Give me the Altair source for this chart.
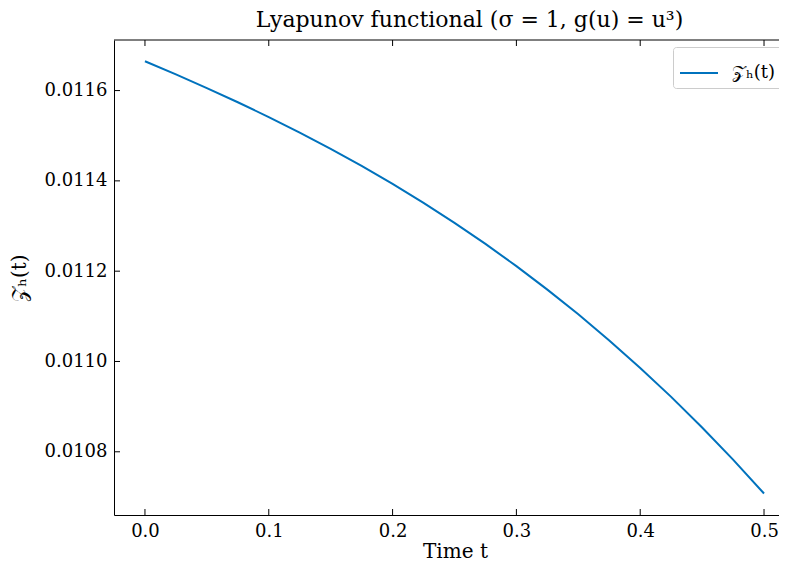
import altair as alt
import pandas as pd

# ---- data ----
t_vals = [0.0, 0.025, 0.05, 0.075, 0.1, 0.125, 0.15, 0.175, 0.2, 0.225, 0.25,
          0.275, 0.3, 0.325, 0.35, 0.375, 0.4, 0.425, 0.45, 0.475, 0.5]
z_vals = [0.011665, 0.011636, 0.0116056, 0.0115741, 0.0115413, 0.011507,
          0.0114709, 0.0114331, 0.0113932, 0.0113512, 0.011307, 0.0112604,
          0.0112111, 0.0111592, 0.0111045, 0.0110467, 0.0109857, 0.0109216,
          0.0108539, 0.0107827, 0.0107077]
x_ticks = [0.0, 0.1, 0.2, 0.3, 0.4, 0.5]
y_ticks = [0.0108, 0.0110, 0.0112, 0.0114, 0.0116]
series_name = "𝒵ₕ(t)"
title_text = "Lyapunov functional  (σ = 1, g(u) = u³)"

W, H = 665, 475
FONT = "DejaVu Serif"
LINE_COLOR = "#0072bd"
AX = "#000000"

df = pd.DataFrame({"t": t_vals, "Z": z_vals, "series": [series_name] * len(t_vals)})
xt = pd.DataFrame({"t": x_ticks})
yt = pd.DataFrame({"Z": y_ticks})

xscale = alt.Scale(domain=[-0.025, 0.5121], nice=False, zero=False)
yscale = alt.Scale(domain=[0.01066, 0.011712], nice=False, zero=False)

xaxis = alt.Axis(values=x_ticks, format=".1f", title="Time t", labelPadding=7,
                 titlePadding=1, titleX=341)
yaxis = alt.Axis(values=y_ticks, format=".4f", title=series_name, labelPadding=7,
                 titlePadding=15)

line = alt.Chart(df).mark_line(strokeWidth=2).encode(
    x=alt.X("t:Q", scale=xscale, axis=xaxis),
    y=alt.Y("Z:Q", scale=yscale, axis=yaxis),
    color=alt.Color("series:N", scale=alt.Scale(range=[LINE_COLOR]),
                    legend=alt.Legend(title=None, orient="none", legendX=559, legendY=7,
                                      symbolType="stroke", symbolSize=1444,
                                      symbolStrokeWidth=2, labelFont=FONT,
                                      labelFontSize=18, labelColor="black",
                                      labelOffset=13, padding=6,
                                      strokeColor="#cccccc", fillColor="white",
                                      cornerRadius=3)),
)

bottom_ticks = alt.Chart(xt).mark_rule(color=AX, strokeWidth=1).encode(
    x=alt.X("t:Q", scale=xscale, axis=xaxis), y=alt.value(H), y2=alt.value(H - 6))
top_ticks = alt.Chart(xt).mark_rule(color=AX, strokeWidth=1).encode(
    x=alt.X("t:Q", scale=xscale, axis=xaxis), y=alt.value(0), y2=alt.value(6))
left_ticks = alt.Chart(yt).mark_rule(color=AX, strokeWidth=1).encode(
    y=alt.Y("Z:Q", scale=yscale, axis=yaxis), x=alt.value(0), x2=alt.value(6))
top_spine = alt.Chart(pd.DataFrame({"a": [0]})).mark_rule(color=AX, strokeWidth=1).encode(
    x=alt.value(0), x2=alt.value(W), y=alt.value(0))

chart = alt.layer(top_spine, bottom_ticks, top_ticks, left_ticks, line).properties(
    width=W, height=H,
    autosize=alt.AutoSizeParams(type="none"),
    padding={"left": 106, "top": 32, "right": 0, "bottom": 48},
    title=alt.TitleParams(title_text, font=FONT, fontSize=22, fontWeight="normal",
                          color="black", anchor="middle", dx=23, offset=8),
).configure_view(stroke=None).configure_axis(
    labelFont=FONT, titleFont=FONT, labelFontSize=18, titleFontSize=20,
    titleFontWeight="normal", labelColor="black", titleColor="black",
    domainColor=AX, domainWidth=1, ticks=False, grid=False,
)

chart.save("out.html", embed_options={"renderer": "svg", "actions": False})
